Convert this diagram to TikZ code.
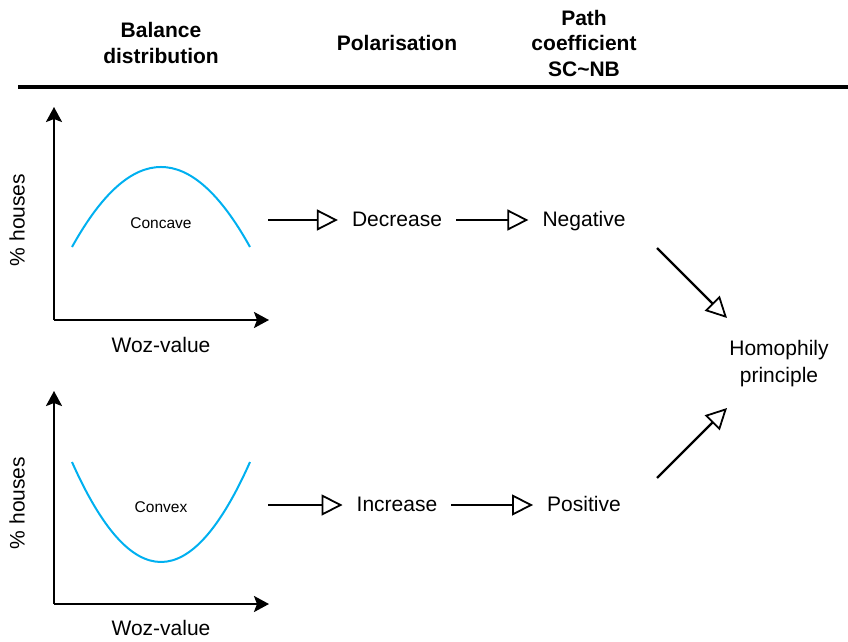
\documentclass[tikz,border=0pt]{standalone}
\usepackage{fontspec}
\setmainfont{Liberation Sans}
\usetikzlibrary{arrows.meta}
\definecolor{curveblue}{RGB}{0,176,240}
\begin{document}
\begin{tikzpicture}[x=1pt,y=-1pt,
  hdr/.style={font=\fontsize{21}{25.5}\selectfont\bfseries, align=center, inner sep=0},
  lbl/.style={font=\fontsize{21}{27}\selectfont, align=center, inner sep=0, inner xsep=14pt},
  one/.style={text height=15pt, text depth=1.5pt},
  axlbl/.style={font=\fontsize{21}{26}\selectfont, inner sep=0},
  small/.style={font=\fontsize{15.5}{18}\selectfont, inner sep=0},
  axis/.style={line width=2.4pt, -{Stealth[length=15pt,width=16pt,inset=3pt]}},
  curve/.style={draw=curveblue, line width=2pt},
  flow/.style={line width=2.4pt, -{Triangle[open,length=21pt,width=21pt,line width=1.8pt]}}
]
\useasboundingbox (0,0) rectangle (848,642);

% header
\node[hdr] (h1) at (161,43) {Balance\\distribution};
\node[hdr] (h2) at (397,43) {Polarisation};
\node[hdr] (h3) at (584,43) {Path\\coefficient\\SC\char`~NB};
\coordinate (r1) at (18,87);
\coordinate (r2) at (848,87);
\draw[line width=3.5pt] (r1) -- (r2);

% top plot
\coordinate (o1) at (54,320);
\coordinate (y1) at (54,107);
\coordinate (x1) at (269,320);
\draw[axis] (o1) -- (y1);
\draw[axis] (o1) -- (x1);
\draw[curve] (72,247) .. controls (131.3,140.3) and (190.7,140.3) .. (250,247);
\node[small] (cc) at (161,223) {Concave};
\node[axlbl] (wz1) at (161,345) {Woz-value};
\node[axlbl, rotate=90] (ph1) at (17,220) {\% houses};

% bottom plot
\coordinate (o2) at (54,604);
\coordinate (y2) at (54,391);
\coordinate (x2) at (269,604);
\draw[axis] (o2) -- (y2);
\draw[axis] (o2) -- (x2);
\draw[curve] (72,462) .. controls (131.3,595.3) and (190.7,595.3) .. (250,462);
\node[small] (cv) at (161,507) {Convex};
\node[axlbl] (wz2) at (161,628) {Woz-value};
\node[axlbl, rotate=90] (ph2) at (17,503) {\% houses};

% flow nodes
\node[lbl,one] (dec) at (397,220) {Decrease};
\node[lbl,one] (neg) at (584,220) {Negative};
\node[lbl,one] (inc) at (397,505) {Increase};
\node[lbl,one] (pos) at (584,505) {Positive};
\node[lbl] (hom) at (779,364) {Homophily\\principle};

\coordinate (s1) at (268,220);
\coordinate (s2) at (268,505);
\draw[flow] (s1) -- (dec);
\draw[flow] (dec) -- (neg);
\draw[flow] (s2) -- (inc);
\draw[flow] (inc) -- (pos);

\coordinate (d1s) at (657,248);
\coordinate (d1e) at (727,318);
\coordinate (d2s) at (657,478);
\coordinate (d2e) at (727,408);
\draw[flow] (d1s) -- (d1e);
\draw[flow] (d2s) -- (d2e);
\end{tikzpicture}
\end{document}
